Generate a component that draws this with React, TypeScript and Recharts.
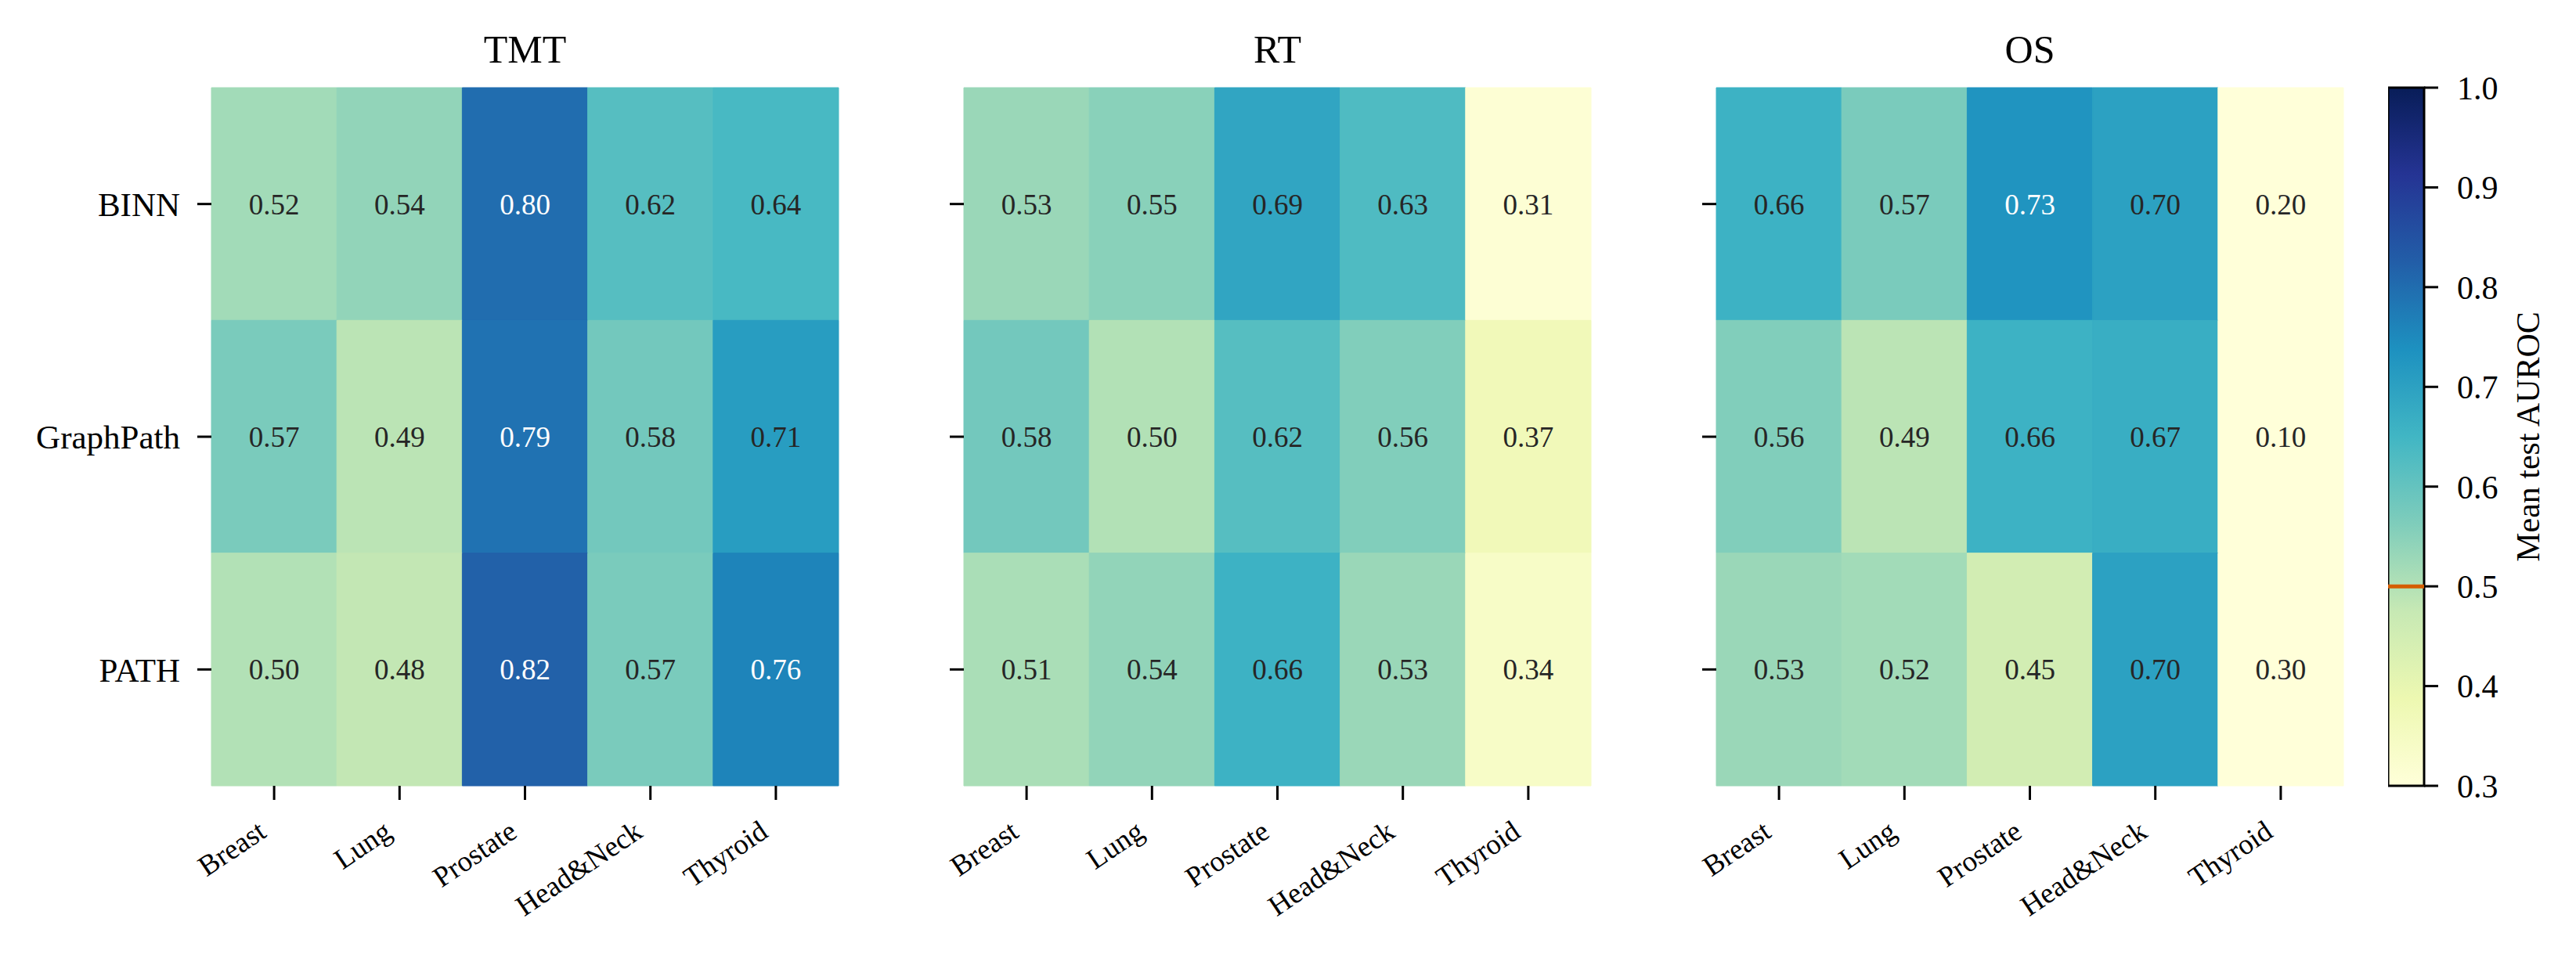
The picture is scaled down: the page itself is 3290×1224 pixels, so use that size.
import React from "react"
import { ComposedChart, XAxis, YAxis, ReferenceArea, ReferenceLine, Scatter } from "recharts"

const FONT = "'Liberation Serif', 'Times New Roman', serif"

// data
const cancers = ["Breast", "Lung", "Prostate", "Head&Neck", "Thyroid"]
const models = ["BINN", "GraphPath", "PATH"]
const panelTitles = ["TMT", "RT", "OS"]

const tmtBinn = [0.52, 0.54, 0.8, 0.62, 0.64]
const tmtGraphPath = [0.57, 0.49, 0.79, 0.58, 0.71]
const tmtPath = [0.5, 0.48, 0.82, 0.57, 0.76]

const rtBinn = [0.53, 0.55, 0.69, 0.63, 0.31]
const rtGraphPath = [0.58, 0.5, 0.62, 0.56, 0.37]
const rtPath = [0.51, 0.54, 0.66, 0.53, 0.34]

const osBinn = [0.66, 0.57, 0.73, 0.7, 0.2]
const osGraphPath = [0.56, 0.49, 0.66, 0.67, 0.1]
const osPath = [0.53, 0.52, 0.45, 0.7, 0.3]

const colorbarTicks = [0.3, 0.4, 0.5, 0.6, 0.7, 0.8, 0.9, 1.0]
const VMIN = 0.3
const VMAX = 1.0
const CHANCE = 0.5
const WHITE_TEXT_ABOVE = 0.72

// YlGnBu
const YLGNBU = ["#ffffd9", "#edf8b1", "#c7e9b4", "#7fcdbb", "#41b6c4", "#1d91c0", "#225ea8", "#253494", "#081d58"]

function hexToRgb(h: string) {
  return [parseInt(h.slice(1, 3), 16), parseInt(h.slice(3, 5), 16), parseInt(h.slice(5, 7), 16)]
}

function colorFor(v: number) {
  let t = (v - VMIN) / (VMAX - VMIN)
  t = Math.max(0, Math.min(1, t))
  const pos = t * (YLGNBU.length - 1)
  const i = Math.min(Math.floor(pos), YLGNBU.length - 2)
  const f = pos - i
  const a = hexToRgb(YLGNBU[i])
  const b = hexToRgb(YLGNBU[i + 1])
  const c = a.map((av, k) => Math.round(av + (b[k] - av) * f))
  return `rgb(${c[0]},${c[1]},${c[2]})`
}

const panels = [
  { title: panelTitles[0], rows: [tmtBinn, tmtGraphPath, tmtPath] },
  { title: panelTitles[1], rows: [rtBinn, rtGraphPath, rtPath] },
  { title: panelTitles[2], rows: [osBinn, osGraphPath, osPath] },
]

// layout (px)
const PLOT_TOP = 112
const PLOT_BOTTOM = 1004
const PLOT_W = 801
const Y_AXIS_W = 260
const X_AXIS_H = 200
const PANEL_LEFTS = [270, 1231, 2192]
const CB_LEFT = 3050
const CB_W = 46

function XTick(props: any) {
  const { x, y, payload } = props
  const label = cancers[Math.floor(payload.value)]
  return (
    <g transform={`translate(${x - 8},${y + 46})`}>
      <text textAnchor="end" transform="rotate(-34)" fontSize={37} fontFamily={FONT} fill="#000">
        {label}
      </text>
    </g>
  )
}

function Panel({ rows, left, showLabels }: { rows: number[][]; left: number; showLabels: boolean }) {
  const cells = rows.flatMap((row, r) =>
    row.map((v, c) => ({ x: c + 0.5, y: r + 0.5, col: c, row: r, v }))
  )
  return (
    <div style={{ position: "absolute", left: left - Y_AXIS_W, top: 0 }}>
      <ComposedChart
        width={Y_AXIS_W + PLOT_W + 10}
        height={1224}
        data={cells}
        margin={{ top: PLOT_TOP, right: 10, bottom: 1224 - PLOT_BOTTOM - X_AXIS_H, left: 0 }}
      >
        <XAxis
          type="number"
          dataKey="x"
          domain={[0, cancers.length]}
          ticks={cancers.map((_, i) => i + 0.5)}
          axisLine={false}
          tickLine={{ stroke: "#000", strokeWidth: 3 }}
          tickSize={18}
          tickMargin={0}
          height={X_AXIS_H}
          interval={0}
          tick={<XTick />}
        />
        <YAxis
          type="number"
          dataKey="y"
          domain={[0, models.length]}
          reversed
          ticks={models.map((_, i) => i + 0.5)}
          tickFormatter={(v: number) => (showLabels ? models[Math.floor(v)] : "")}
          axisLine={false}
          tickLine={{ stroke: "#000", strokeWidth: 3 }}
          tickSize={18}
          tickMargin={22}
          width={Y_AXIS_W}
          interval={0}
          tick={{ fill: "#000", fontSize: 43, fontFamily: FONT }}
        />
        {cells.map((cell) => {
          const fill = colorFor(cell.v)
          return (
            <ReferenceArea
              key={`${cell.row}-${cell.col}`}
              x1={cell.col}
              x2={cell.col + 1}
              y1={cell.row}
              y2={cell.row + 1}
              fill={fill}
              fillOpacity={1}
              stroke={fill}
              strokeWidth={1}
              ifOverflow="visible"
              label={{
                value: cell.v.toFixed(2),
                position: "center",
                fill: cell.v > WHITE_TEXT_ABOVE ? "#ffffff" : "#262626",
                fontSize: 37,
                fontFamily: FONT,
              }}
            />
          )
        })}
        <Scatter dataKey="y" isAnimationActive={false} shape={() => <g />} />
      </ComposedChart>
    </div>
  )
}

function Colorbar() {
  return (
    <div style={{ position: "absolute", left: CB_LEFT, top: 0 }}>
      <ComposedChart
        width={CB_W + 200}
        height={1224}
        data={[{ x: 0.5, y: CHANCE }]}
        margin={{ top: PLOT_TOP, right: 0, bottom: 1224 - PLOT_BOTTOM, left: 0 }}
      >
        <defs>
          <linearGradient id="ylgnbu" x1="0" y1="1" x2="0" y2="0">
            {YLGNBU.map((c, i) => (
              <stop key={c} offset={`${(i / (YLGNBU.length - 1)) * 100}%`} stopColor={c} />
            ))}
          </linearGradient>
        </defs>
        <XAxis type="number" dataKey="x" domain={[0, 1]} hide height={0} />
        <YAxis
          type="number"
          dataKey="y"
          orientation="right"
          domain={[VMIN, VMAX]}
          ticks={colorbarTicks}
          tickFormatter={(v: number) => v.toFixed(1)}
          axisLine={false}
          tickLine={{ stroke: "#000", strokeWidth: 3 }}
          tickSize={18}
          tickMargin={24}
          width={200}
          interval={0}
          tick={{ fill: "#000", fontSize: 42, fontFamily: FONT }}
        />
        <ReferenceArea
          x1={0}
          x2={1}
          y1={VMIN}
          y2={VMAX}
          fill="url(#ylgnbu)"
          fillOpacity={1}
          stroke="none"
          ifOverflow="visible"
        />
        <ReferenceLine y={CHANCE} stroke="#d55e00" strokeWidth={5} ifOverflow="visible" />
        <ReferenceArea
          x1={0}
          x2={1}
          y1={VMIN}
          y2={VMAX}
          fill="none"
          stroke="#000"
          strokeWidth={3}
          ifOverflow="visible"
        />
        <Scatter dataKey="y" isAnimationActive={false} shape={() => <g />} />
      </ComposedChart>
    </div>
  )
}

export default function App() {
  return (
    <>
      <style>{`body{margin:0;background:#fff}`}</style>
      <div style={{ position: "relative", width: 3290, height: 1224, background: "#fff", overflow: "hidden" }}>
        {panels.map((p, i) => (
          <Panel key={p.title} rows={p.rows} left={PANEL_LEFTS[i]} showLabels={i === 0} />
        ))}
        <Colorbar />
        <svg
          width={3290}
          height={1224}
          style={{ position: "absolute", left: 0, top: 0, pointerEvents: "none" }}
        >
          {panels.map((p, i) => (
            <text
              key={p.title}
              x={PANEL_LEFTS[i] + PLOT_W / 2}
              y={80}
              textAnchor="middle"
              fontSize={50}
              fontFamily={FONT}
              fill="#000"
            >
              {p.title}
            </text>
          ))}
          <text
            transform={`translate(3243,${(PLOT_TOP + PLOT_BOTTOM) / 2}) rotate(-90)`}
            textAnchor="middle"
            fontSize={42}
            fontFamily={FONT}
            fill="#000"
          >
            Mean test AUROC
          </text>
        </svg>
      </div>
    </>
  )
}
